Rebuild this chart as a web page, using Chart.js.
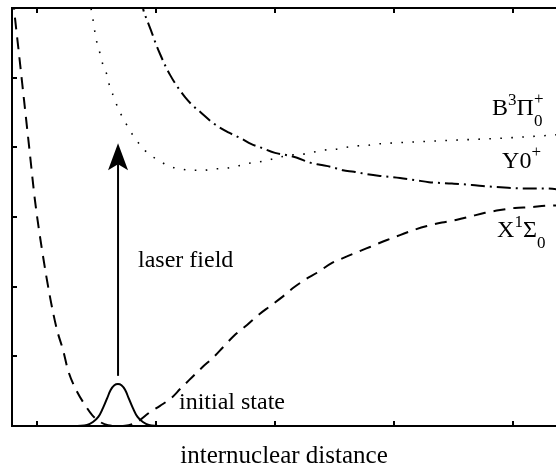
<!DOCTYPE html>
<html>
<head>
<meta charset="utf-8">
<script src="https://cdn.jsdelivr.net/npm/chart.js@4.4.1/dist/chart.umd.min.js"></script>
<style>
html,body{margin:0;padding:0;background:#ffffff;overflow:hidden;}
#wrap{width:556px;height:469px;}
</style>
</head>
<body>
<div id="wrap"><canvas id="c" width="556" height="469"></canvas></div>
<script>
// ---- data (arbitrary units) ----
const groundX = [0.80,0.807,0.845,0.891,0.937,0.983,1.042,1.114,1.168,1.219,1.261,1.328,1.404,1.462,1.529,1.597,1.672,1.740,1.840,1.950,2.034,2.134,2.202,2.303,2.387,2.479,2.563,2.664,2.765,2.857,2.958,3.059,3.151,3.252,3.353,3.479,3.571,3.698,3.798,3.941,4.050,4.160,4.277,4.403,4.529,4.647,4.765,4.891,5.017,5.143,5.269,5.361];
const groundY = [6.15,6.00,5.40,4.68,3.96,3.24,2.53,1.81,1.38,1.09,0.80,0.52,0.30,0.16,0.06,0.01,0.00,0.004,0.057,0.20,0.29,0.41,0.53,0.70,0.84,0.98,1.13,1.31,1.45,1.59,1.72,1.85,1.98,2.10,2.20,2.34,2.41,2.50,2.57,2.67,2.74,2.81,2.87,2.92,2.96,3.01,3.06,3.10,3.13,3.14,3.16,3.165];

const bStateX = [1.445,1.454,1.471,1.487,1.504,1.529,1.555,1.588,1.613,1.647,1.681,1.723,1.765,1.815,1.874,1.941,2.017,2.109,2.210,2.303,2.395,2.487,2.588,2.681,2.773,2.866,2.950,3.042,3.134,3.227,3.319,3.412,3.496,3.597,3.689,3.782,3.874,3.966,4.471,4.891,5.286,5.361];
const bStateY = [6.15,6.00,5.83,5.65,5.50,5.35,5.18,5.04,4.86,4.72,4.56,4.42,4.29,4.15,4.02,3.90,3.82,3.73,3.69,3.67,3.67,3.69,3.70,3.73,3.77,3.79,3.82,3.86,3.89,3.90,3.93,3.96,3.97,4.00,4.02,4.03,4.05,4.06,4.10,4.13,4.17,4.18];

const yStateX = [1.88,1.891,1.924,1.966,2.000,2.034,2.084,2.118,2.160,2.244,2.303,2.370,2.471,2.529,2.614,2.723,2.798,2.891,3.000,3.093,3.185,3.294,3.378,3.471,3.571,3.664,3.756,3.882,4.050,4.176,4.294,4.487,4.655,4.782,4.958,5.084,5.269,5.361];
const yStateY = [6.15,6.00,5.83,5.64,5.48,5.34,5.15,5.04,4.92,4.72,4.61,4.51,4.36,4.29,4.21,4.12,4.05,3.99,3.92,3.89,3.85,3.78,3.75,3.72,3.67,3.65,3.62,3.59,3.56,3.53,3.50,3.48,3.46,3.44,3.42,3.41,3.41,3.40];

const packetX = [1.34,1.42,1.47,1.515,1.555,1.59,1.62,1.65,1.68,1.71,1.74,1.77,1.805,1.845,1.89,1.94,2.02];
const packetY = [0.0,0.014,0.057,0.13,0.26,0.40,0.52,0.585,0.603,0.585,0.52,0.40,0.26,0.13,0.057,0.014,0.0];

const arrowX = 1.681;
const arrowFromY = 0.72;
const arrowToY = 4.06;

const xTickValues = [1,2,3,4,5];
const yTickValues = [1,2,3,4,5];
const xRange = [0.79, 5.361];
const yRange = [0, 6];

const axisTitle = 'internuclear distance';
const labelLaser = 'laser field';
const labelInitial = 'initial state';

// ---- helpers ----
function pts(xs, ys){ return xs.map((x,i)=>({x:x, y:ys[i]})); }

const SERIF = '"Liberation Serif", "Times New Roman", serif';

// label anchors (data units) and pieces
const textLabels = [
  {x:1.849, y:2.282, parts:[{t:labelLaser, s:24, dy:0}]},
  {x:2.193, y:0.244, parts:[{t:labelInitial, s:24, dy:0}]},
  {x:4.824, y:4.464, parts:[{t:'B', s:24, dy:0},{t:'3', s:17, dy:-10},{t:'\u03A0', s:24, dy:0},{t:'0', s:17, dy:11, stack:true},{t:'+', s:17, dy:-11}]},
  {x:4.908, y:3.703, parts:[{t:'Y0', s:24, dy:0},{t:'+', s:17, dy:-11}]},
  {x:4.866, y:2.713, parts:[{t:'X', s:24, dy:0},{t:'1', s:17, dy:-10},{t:'\u03A3', s:24, dy:0},{t:'0', s:17, dy:11}]}
];

const decorPlugin = {
  id: 'decor',
  afterDatasetsDraw(chart){
    const ctx = chart.ctx;
    const xs = chart.scales.x, ys = chart.scales.y;
    const area = chart.chartArea;
    ctx.save();
    // arrow head
    const tipX = xs.getPixelForValue(arrowX);
    const tipY = ys.getPixelForValue(arrowToY);
    ctx.fillStyle = '#000';
    ctx.beginPath();
    ctx.moveTo(tipX, tipY);
    ctx.lineTo(tipX + 10, tipY + 27);
    ctx.lineTo(tipX, tipY + 21);
    ctx.lineTo(tipX - 10, tipY + 27);
    ctx.closePath();
    ctx.fill();

    // inward tick marks
    ctx.strokeStyle = '#000';
    ctx.lineWidth = 2;
    ctx.beginPath();
    xTickValues.forEach(v=>{
      const px = Math.round(xs.getPixelForValue(v));
      ctx.moveTo(px, area.bottom); ctx.lineTo(px, area.bottom - 5);
      ctx.moveTo(px, area.top); ctx.lineTo(px, area.top + 5);
    });
    yTickValues.forEach(v=>{
      const py = Math.round(ys.getPixelForValue(v));
      ctx.moveTo(area.left, py); ctx.lineTo(area.left + 5, py);
    });
    ctx.stroke();

    // text labels
    ctx.fillStyle = '#000';
    ctx.textBaseline = 'alphabetic';
    ctx.textAlign = 'left';
    textLabels.forEach(lab=>{
      let cx = xs.getPixelForValue(lab.x);
      const by = ys.getPixelForValue(lab.y);
      let stackX, stackW;
      lab.parts.forEach(p=>{
        ctx.font = p.s + 'px ' + SERIF;
        const w = ctx.measureText(p.t).width;
        if (p.stack) {
          ctx.fillText(p.t, cx, by + p.dy);
          stackX = cx; stackW = w;
        } else if (stackX !== undefined) {
          ctx.fillText(p.t, stackX, by + p.dy);
          cx = stackX + Math.max(w, stackW);
          stackX = undefined;
        } else {
          ctx.fillText(p.t, cx, by + p.dy);
          cx += w;
        }
      });
    });
    ctx.restore();
  }
};

const ctx = document.getElementById('c').getContext('2d');
new Chart(ctx, {
  type: 'line',
  data: {
    datasets: [
      { label: 'X1Σ0', data: pts(groundX, groundY), borderColor:'#000', borderWidth:2, borderDash:[12,8], pointRadius:0, fill:false, cubicInterpolationMode:'monotone' },
      { label: 'B3Π0+', data: pts(bStateX, bStateY), borderColor:'#000', borderWidth:1.6, borderDash:[1.6,9.4], pointRadius:0, fill:false, cubicInterpolationMode:'monotone' },
      { label: 'Y0+', data: pts(yStateX, yStateY), borderColor:'#000', borderWidth:2, borderDash:[14,5,2,5], pointRadius:0, fill:false, cubicInterpolationMode:'monotone' },
      { label: 'initial state', data: pts(packetX, packetY), borderColor:'#000', borderWidth:2, pointRadius:0, fill:false, tension:0.4 },
      { label: 'laser field', data: [{x:arrowX, y:arrowFromY},{x:arrowX, y:arrowToY - 0.3}], borderColor:'#000', borderWidth:2, pointRadius:0, fill:false }
    ]
  },
  options: {
    responsive: false,
    devicePixelRatio: 1,
    animation: false,
    layout: { padding: { left: 12, top: 8, right: 0, bottom: 0 } },
    plugins: { legend: { display:false }, tooltip: { enabled:false } },
    scales: {
      x: {
        type:'linear', position:'bottom', min:xRange[0], max:xRange[1],
        ticks:{ display:false },
        grid:{ display:false, drawTicks:false },
        border:{ display:true, color:'#000', width:2 },
        title:{ display:true, text:axisTitle, color:'#000', font:{ family:SERIF, size:25, lineHeight:1 }, padding:{ top:18, bottom:0 } }
      },
      x2: {
        type:'linear', position:'top', min:xRange[0], max:xRange[1],
        ticks:{ display:false },
        grid:{ display:false, drawTicks:false },
        border:{ display:true, color:'#000', width:2 }
      },
      y: {
        type:'linear', position:'left', min:yRange[0], max:yRange[1],
        ticks:{ display:false },
        grid:{ display:false, drawTicks:false },
        border:{ display:true, color:'#000', width:2 }
      }
    }
  },
  plugins: [decorPlugin]
});
</script>
</body>
</html>
